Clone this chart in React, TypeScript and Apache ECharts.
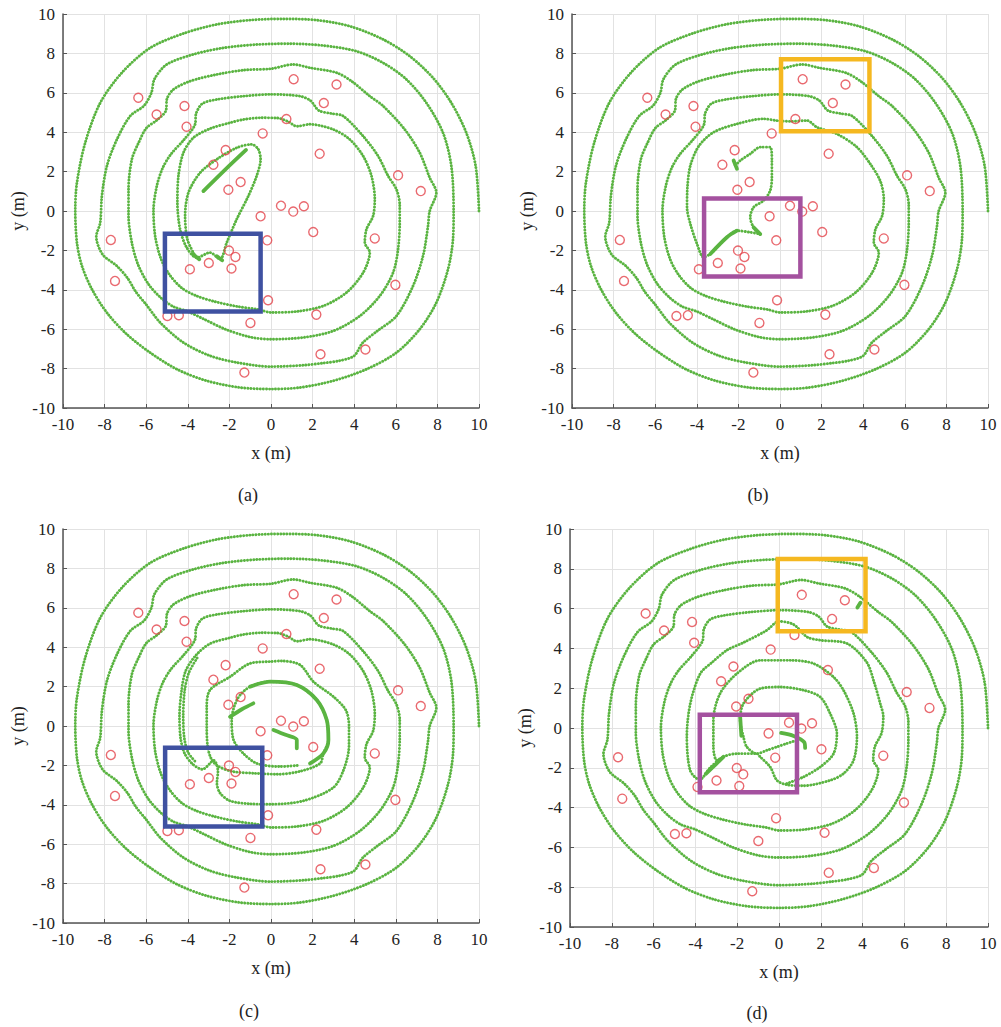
import React, { useEffect, useRef } from "react";
import * as echarts from "echarts";

const GREEN = "#5ab441";
const RED = "#e3444b";
const BLUE = "#3f51a1";
const ORANGE = "#f5b820";
const MAGENTA = "#a4519f";
const FONT = "Liberation Serif, DejaVu Serif, serif";

const panelLabels = ["(a)", "(b)", "(c)", "(d)"];

// obstacle centres (m)
const obstacles: [number, number][] = [
  [-6.38, 5.75], [-5.5, 4.9], [-4.16, 5.33], [-4.06, 4.28], [1.09, 6.69], [3.15, 6.42],
  [2.54, 5.48], [0.74, 4.67], [-0.4, 3.94], [2.34, 2.91], [-2.18, 3.09], [-2.77, 2.35],
  [-1.46, 1.47], [-2.05, 1.08], [6.11, 1.81], [7.2, 1.01], [0.48, 0.27], [1.07, -0.03],
  [1.58, 0.24], [-0.5, -0.27], [2.03, -1.07], [-0.18, -1.49], [4.99, -1.39], [-7.7, -1.47],
  [-2.02, -2.01], [-1.71, -2.33], [-2.99, -2.64], [-3.9, -2.96], [-1.9, -2.92], [-7.5, -3.55],
  [5.98, -3.75], [-0.14, -4.53], [-4.98, -5.33], [-4.43, -5.29], [-0.99, -5.68], [2.18, -5.26],
  [2.38, -7.27], [4.54, -7.03], [-1.28, -8.2],
];

// shared outer turns of the trajectory
const turn1: [number, number][] = [
  [10, 0], [9.84, 2.28], [9.39, 3.97], [8.67, 5.49], [7.79, 6.76], [6.67, 7.86], [5.39, 8.71],
  [3.79, 9.38], [2.19, 9.69], [0.59, 9.75], [-1.01, 9.69], [-2.61, 9.47], [-4.21, 9.01],
  [-5.81, 8.28], [-7.17, 7.02], [-8.21, 5.49], [-8.93, 3.47], [-9.33, 1.44], [-9.41, 0],
  [-9.33, -1.61], [-9.09, -2.79], [-8.61, -3.97], [-7.89, -5.16], [-6.93, -6.26], [-5.81, -7.19],
  [-4.53, -8.03], [-3.09, -8.62], [-1.49, -8.96], [0, -9.04], [1.39, -8.96], [2.99, -8.62],
  [4.59, -8.03], [6.03, -7.19], [7.15, -6.0], [7.95, -4.65], [8.51, -2.96], [8.75, -1.44], [8.78, 0],
];
const turn2: [number, number][] = [
  [8.67, 2.28], [8.27, 3.97], [7.47, 5.49], [6.51, 6.68], [5.39, 7.52], [4.11, 8.11], [2.51, 8.4],
  [0.91, 8.49], [-0.69, 8.45], [-2.29, 8.28], [-3.73, 7.95], [-5.01, 7.44], [-5.6, 6.7],
  [-5.75, 6.0], [-6.1, 5.35], [-6.77, 4.82], [-7.41, 3.63], [-7.89, 2.28], [-8.13, 0.76],
  [-8.21, -0.59], [-8.4, -1.3], [-8.1, -2.2], [-7.4, -2.8], [-6.9, -3.4], [-6.5, -4.1],
  [-6.0, -4.75], [-5.33, -5.66], [-4.21, -6.68], [-2.93, -7.35], [-1.65, -7.69], [0, -7.9],
  [1.55, -7.83], [2.5, -7.72], [3.3, -7.6], [4.0, -7.35], [4.4, -6.7], [5.1, -6.1],
  [6.03, -5.33], [6.83, -3.8], [7.31, -2.28], [7.55, -0.76], [7.63, 0],
];
const turn3: [number, number][] = [
  [7.95, 0.93], [7.63, 1.69], [7.15, 2.96], [6.43, 4.14], [5.39, 5.33], [4.75, 5.83], [3.87, 6.59],
  [3.15, 7.02], [1.87, 7.27], [1.07, 7.44], [0, 7.22], [-1.33, 7.15], [-2.61, 6.93], [-3.89, 6.59],
  [-4.69, 6.17], [-5.0, 5.7], [-5.05, 5.1], [-5.5, 4.6], [-6.0, 4.2], [-6.35, 3.5], [-6.69, 2.62],
  [-6.85, 1.1], [-6.85, -0.25], [-6.69, -1.61], [-6.4, -2.7], [-5.9, -3.7], [-5.3, -4.4],
  [-4.7, -4.85], [-4.0, -5.1], [-3.2, -5.5], [-2.2, -6.0], [-1.0, -6.4], [0, -6.51], [1.55, -6.42],
  [2.99, -6.09], [4.27, -5.33], [5.23, -4.31], [5.87, -3.13], [6.11, -1.94], [6.19, -0.59],
  [6.19, 0.3], [6.03, 1.1], [5.63, 1.78],
];
const turn4: [number, number][] = [
  [5.15, 2.79], [4.43, 3.8], [3.47, 4.82], [2.9, 4.95], [2.3, 5.1], [1.9, 5.6], [1.39, 5.83],
  [0, 5.92], [-1.33, 5.83], [-2.61, 5.66], [-3.3, 5.45], [-3.6, 4.95], [-3.65, 4.4], [-4.2, 3.6],
  [-4.8, 2.9], [-5.2, 2.2], [-5.49, 1.27], [-5.65, 0], [-5.57, -1.27], [-5.3, -2.4], [-4.9, -3.2],
  [-4.3, -3.9], [-3.6, -4.3], [-2.7, -4.6], [-1.6, -4.85], [-0.6, -5.0], [0, -5.15], [1.23, -5.1],
  [2.51, -4.82], [3.63, -4.14], [4.43, -3.13], [4.75, -2.1], [4.51, -1.61], [4.59, -0.93],
  [4.91, -0.25], [4.99, 0.59],
];

// inner parts, one per panel
const innerA: [number, number][] = [
  [4.83, 1.78], [4.43, 2.79], [3.79, 3.63], [2.99, 4.14], [1.87, 4.4], [1.25, 4.3], [0.8, 4.55],
  [0.3, 4.72], [-0.5, 4.73], [-1.3, 4.65], [-1.97, 4.48], [-2.93, 4.18], [-3.73, 3.72],
  [-4.21, 2.96], [-4.45, 1.78], [-4.5, 0.42], [-4.37, -0.93], [-4.05, -1.86], [-3.57, -2.37],
  [-2.93, -2.11], [-2.45, -2.45], [-2.13, -1.61], [-1.65, -0.42], [-1.09, 0.76], [-0.69, 1.78],
  [-0.5, 2.62], [-0.61, 3.13], [-0.93, 3.38], [-1.65, 3.21], [-2.61, 2.62], [-3.41, 1.94],
  [-3.97, 0.93], [-4.13, -0.25], [-4.02, -1.44], [-3.65, -2.28],
];
const innerB: [number, number][] = [
  [4.83, 1.5], [4.34, 2.39], [3.7, 3.24], [2.74, 3.91], [1.78, 4.25], [1.3, 4.59], [0.5, 4.55],
  [-0.15, 4.59], [-0.79, 4.68], [-2.07, 4.42], [-3.19, 4.0], [-3.9, 3.3], [-4.31, 2.3],
  [-4.45, 1.2], [-4.47, 0.19], [-4.31, -0.66], [-3.99, -1.67], [-3.67, -2.35], [-3.35, -2.18],
  [-2.9, -1.7], [-2.55, -1.33], [-2.07, -1.0], [-1.43, -1.08], [-0.95, -1.17], [-1.27, -0.83],
  [-1.43, -0.32], [-1.27, 0.19], [-0.79, 0.53], [-0.47, 1.04], [-0.39, 1.71], [-0.39, 2.56],
  [-0.47, 3.24], [-0.95, 3.24], [-1.43, 2.9], [-1.91, 2.56], [-2.23, 2.22],
];
const innerC: [number, number][] = [
  [4.83, 1.78], [4.43, 2.79], [3.79, 3.63], [2.99, 4.14], [1.87, 4.4], [1.25, 4.3], [0.8, 4.55],
  [0.3, 4.72], [-0.5, 4.73], [-1.3, 4.65], [-1.97, 4.48], [-2.93, 4.18], [-3.6, 3.6], [-4.1, 2.8],
  [-4.3, 1.8], [-4.4, 0.5], [-4.35, -0.6], [-4.15, -1.4], [-3.75, -1.95], [-3.3, -2.2],
  [-2.75, -1.75], [-2.55, -2.3], [-2.6, -2.9], [-2.45, -3.4], [-1.97, -3.8], [-1.0, -3.95],
  [0, -3.97], [1.55, -3.8], [2.99, -3.13], [3.5, -2.2], [3.75, -1.0], [3.75, 0], [3.6, 0.8],
  [3.0, 1.49], [2.04, 2.25], [1.4, 3.1], [0.5, 3.3], [-0.04, 3.27], [-1.0, 3.18], [-1.97, 2.5],
  [-2.93, 1.83], [-3.09, 1.0], [-3.09, 0], [-3.05, -1.0], [-2.9, -1.6], [-2.6, -2.0], [-1.9, -2.3],
  [-0.8, -2.4], [0.3, -2.45], [1.4, -2.3], [2.36, -1.9], [2.52, -1.39], [2.76, -0.71],
  [2.68, 0.3], [2.2, 1.32], [1.24, 2.08], [-0.04, 2.25], [-1.0, 2.0], [-1.6, 1.4], [-1.89, 0.3],
  [-1.8, -0.71], [-1.33, -1.39], [-0.68, -1.9], [0.44, -2.06], [1.3, -2.0],
];
const innerD: [number, number][] = [
  [4.85, 1.2], [4.55, 2.3], [4.2, 3.3], [3.27, 4.24], [1.99, 4.41], [1.35, 4.57], [0.7, 5.2],
  [0, 5.36], [-0.6, 4.9], [-1.69, 4.3], [-2.49, 3.91], [-3.2, 3.3], [-3.77, 2.73], [-4.25, 1.2],
  [-4.41, -0.45], [-4.25, -2.13], [-3.8, -2.6], [-3.3, -2.0], [-2.66, -1.45], [-2.02, -1.29],
  [-1.06, -1.29], [-0.9, -1.45], [-0.42, -1.96], [-0.1, -2.63], [0.37, -2.85], [1.17, -2.9],
  [2.45, -2.63], [3.09, -2.29], [3.57, -1.62], [3.73, -0.45], [3.57, 0.72], [3.09, 1.89],
  [2.61, 2.56], [1.65, 3.24], [0.53, 3.4], [-0.9, 3.4], [-2.02, 2.73], [-2.82, 1.73],
  [-3.14, 0.39], [-3.14, -0.95], [-2.98, -1.62], [-2.66, -1.45],
];
const innerD2: [number, number][] = [
  [0.37, -2.79], [1.17, -2.46], [1.97, -1.96], [2.61, -1.29], [2.77, -0.28], [2.45, 0.72],
  [1.97, 1.56], [1.17, 1.9], [0.05, 2.06], [-0.9, 1.98], [-1.7, 1.23], [-1.86, 0.39],
  [-1.7, -0.45], [-1.54, -0.95], [-1.06, -1.29], [-0.58, -1.12], [-0.1, -0.95], [0.37, -0.78],
  [0.85, -0.62],
];
const leftDoubleC: [number, number][] = [
  [-3.55, 3.45], [-3.95, 2.7], [-4.15, 1.8], [-4.22, 0.5], [-4.17, -0.6], [-3.98, -1.35], [-3.6, -1.85],
];

// thick (repeatedly travelled) stretches
const thickA: [number, number][][] = [
  [[-3.25, 1.01], [-2.2, 2.1], [-1.2, 3.1]],
  [[-3.75, -2.2], [-3.45, -2.45]],
  [[-2.6, -2.3], [-2.35, -2.5]],
];
const thickB: [number, number][][] = [
  [[-3.35, -2.18], [-2.55, -1.33], [-2.07, -1.0]],
  [[-1.27, -0.83], [-0.95, -1.17]],
  [[-2.23, 2.56], [-2.07, 2.14]],
];
const thickC: [number, number][][] = [
  [[-1.0, 2.0], [-0.04, 2.25], [1.24, 2.08], [2.2, 1.32], [2.68, 0.3], [2.76, -0.71], [2.52, -1.39], [1.88, -1.9]],
  [[-1.97, 0.47], [-1.4, 0.85], [-0.85, 1.15]],
  [[0.12, -0.2], [0.7, -0.45], [1.24, -0.71], [1.24, -1.13]],
];
const thickD: [number, number][][] = [
  [[0.1, -0.25], [0.7, -0.4], [1.2, -0.7], [1.25, -1.0]],
  [[-3.5, -2.3], [-3.0, -1.8], [-2.66, -1.45]],
  [[-1.86, 0.6], [-1.8, -0.4]],
  [[3.9, 6.3], [3.75, 6.05]],
];

// highlight boxes: [x0, y0, x1, y1]
const boxesA = [[-5.1, -1.15, -0.5, -5.1]];
const boxesB = [[0.05, 7.7, 4.3, 4.05], [-3.65, 0.63, 0.98, -3.33]];
const boxesC = [[-5.09, -1.1, -0.42, -5.1]];
const boxesD = [[-0.06, 8.49, 4.14, 4.86], [-3.79, 0.67, 0.86, -3.23]];
const boxColorsA = [BLUE];
const boxColorsB = [ORANGE, MAGENTA];
const boxColorsC = [BLUE];
const boxColorsD = [ORANGE, MAGENTA];

const outerPath = [...turn1, ...turn2, ...turn3, ...turn4];

const gridsPx = [
  { left: 63, top: 14, width: 416, height: 394 },
  { left: 572, top: 14, width: 416, height: 394 },
  { left: 63, top: 529, width: 416, height: 394 },
  { left: 570, top: 529, width: 418, height: 398 },
];
const captionPos = [
  [248, 495],
  [758, 495],
  [249, 1011],
  [757, 1013],
];

export default function App() {
  const ref = useRef<HTMLDivElement>(null);
  useEffect(() => {
    document.body.style.margin = "0";
    const chart = echarts.init(ref.current!, undefined, { renderer: "svg" });
    const paths = [
      [[...outerPath, ...innerA]],
      [[...outerPath, ...innerB]],
      [[...outerPath, ...innerC], leftDoubleC],
      [[...outerPath, ...innerD], innerD2],
    ];
    const thicks = [thickA, thickB, thickC, thickD];
    const boxes = [boxesA, boxesB, boxesC, boxesD];
    const boxColors = [boxColorsA, boxColorsB, boxColorsC, boxColorsD];

    const series: any[] = [];
    for (let i = 0; i < 4; i++) {
      paths[i].forEach((seg) => {
        series.push({
          type: "line", xAxisIndex: i, yAxisIndex: i, data: seg, showSymbol: false,
          smooth: 0.3, silent: true, z: 2,
          lineStyle: { color: GREEN, width: 2.9, type: [0.1, 3.0], cap: "round" },
        });
      });
      thicks[i].forEach((seg) => {
        series.push({
          type: "line", xAxisIndex: i, yAxisIndex: i, data: seg, showSymbol: false,
          smooth: 0.3, silent: true, z: 2,
          lineStyle: { color: GREEN, width: 3.8, cap: "round" },
        });
      });
      series.push({
        type: "scatter", xAxisIndex: i, yAxisIndex: i, data: obstacles, symbol: "circle",
        symbolSize: 9, silent: true, z: 3,
        itemStyle: { color: "rgba(255,255,255,0)", borderColor: RED, borderWidth: 1.4 },
      });
      boxes[i].forEach((b, k) => {
        const [x0, y0, x1, y1] = b;
        series.push({
          type: "line", xAxisIndex: i, yAxisIndex: i, showSymbol: false, silent: true, z: 4,
          data: [[x0, y0], [x1, y0], [x1, y1], [x0, y1], [x0, y0]],
          lineStyle: { color: boxColors[i][k], width: 4.5, join: "miter", cap: "square" },
        });
      });
    }

    const axisCommon = (i: number, name: string) => ({
      gridIndex: i, type: "value", min: -10, max: 10, interval: 2,
      name, nameLocation: "middle", nameGap: 36,
      nameTextStyle: { fontFamily: FONT, fontSize: 18, color: "#222" },
      axisLine: { onZero: false, lineStyle: { color: "#555", width: 1.5 } },
      axisTick: { inside: true, length: 4, lineStyle: { color: "#555" } },
      axisLabel: { fontFamily: FONT, fontSize: 17, color: "#222", margin: 8 },
      splitLine: { show: true, lineStyle: { color: "#e2e2e2", width: 1 } },
    });

    chart.setOption({
      animation: false,
      backgroundColor: "#fff",
      grid: gridsPx.map((g) => ({ ...g, containLabel: false })),
      xAxis: [0, 1, 2, 3].map((i) => axisCommon(i, "x (m)")),
      yAxis: [0, 1, 2, 3].map((i) => ({ ...axisCommon(i, "y (m)"), nameRotate: 90 })),
      series,
      graphic: captionPos.map((p, i) => ({
        type: "text", x: p[0], y: p[1],
        style: { text: panelLabels[i], fontFamily: FONT, fontSize: 18, fill: "#222", align: "center", verticalAlign: "middle" },
      })),
    });
    return () => chart.dispose();
  }, []);
  return <div ref={ref} style={{ width: 1001, height: 1027 }} />;
}
